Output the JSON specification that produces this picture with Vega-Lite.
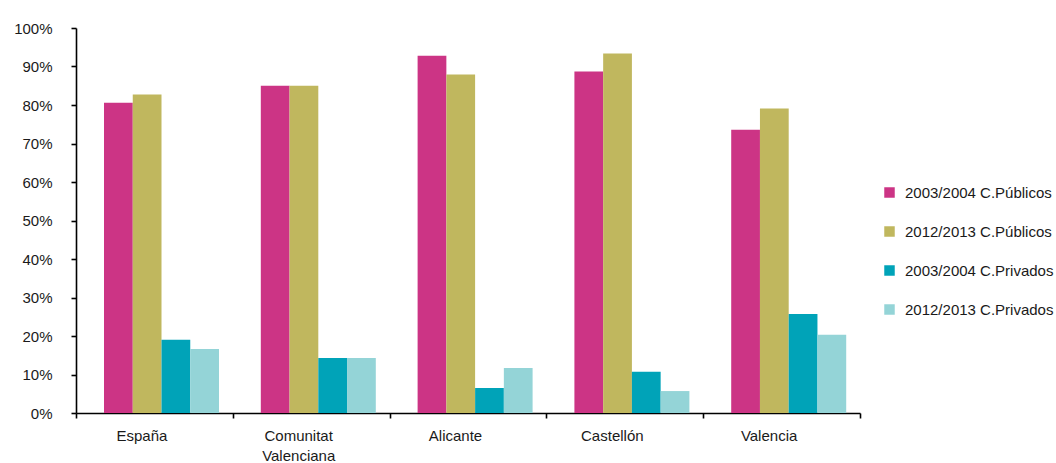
{
  "$schema": "https://vega.github.io/schema/vega-lite/v6.json",
  "width": 784,
  "height": 385,
  "autosize": "none",
  "padding": {"left": 76, "top": 28, "right": 196, "bottom": 50},
  "background": "white",
  "config": {
    "font": "Liberation Sans, Arial, sans-serif",
    "view": {"stroke": null},
    "axis": {
      "domainColor": "#000000",
      "domainWidth": 1.6,
      "tickColor": "#000000",
      "tickWidth": 1.6,
      "tickSize": 5,
      "labelColor": "#1a1a1a",
      "labelFontSize": 15,
      "labelFont": "Liberation Sans, Arial, sans-serif",
      "grid": false,
      "title": null
    },
    "legend": {
      "labelFont": "Liberation Sans, Arial, sans-serif"
    }
  },
  "data": {
    "values": [
      {"region": "España", "series": "2003/2004 C.Públicos", "value": 80.6},
      {"region": "España", "series": "2012/2013 C.Públicos", "value": 82.7},
      {"region": "España", "series": "2003/2004 C.Privados", "value": 19.0},
      {"region": "España", "series": "2012/2013 C.Privados", "value": 16.6},
      {"region": "Comunitat Valenciana", "series": "2003/2004 C.Públicos", "value": 85.0},
      {"region": "Comunitat Valenciana", "series": "2012/2013 C.Públicos", "value": 85.0},
      {"region": "Comunitat Valenciana", "series": "2003/2004 C.Privados", "value": 14.3},
      {"region": "Comunitat Valenciana", "series": "2012/2013 C.Privados", "value": 14.3},
      {"region": "Alicante", "series": "2003/2004 C.Públicos", "value": 92.8},
      {"region": "Alicante", "series": "2012/2013 C.Públicos", "value": 87.9},
      {"region": "Alicante", "series": "2003/2004 C.Privados", "value": 6.5},
      {"region": "Alicante", "series": "2012/2013 C.Privados", "value": 11.7},
      {"region": "Castellón", "series": "2003/2004 C.Públicos", "value": 88.7},
      {"region": "Castellón", "series": "2012/2013 C.Públicos", "value": 93.4},
      {"region": "Castellón", "series": "2003/2004 C.Privados", "value": 10.7},
      {"region": "Castellón", "series": "2012/2013 C.Privados", "value": 5.7},
      {"region": "Valencia", "series": "2003/2004 C.Públicos", "value": 73.6},
      {"region": "Valencia", "series": "2012/2013 C.Públicos", "value": 79.1},
      {"region": "Valencia", "series": "2003/2004 C.Privados", "value": 25.7},
      {"region": "Valencia", "series": "2012/2013 C.Privados", "value": 20.3}
    ]
  },
  "mark": {"type": "bar"},
  "encoding": {
    "x": {
      "field": "region",
      "type": "nominal",
      "sort": null,
      "scale": {"paddingInner": 0, "paddingOuter": 0},
      "axis": {
        "labelAngle": 0,
        "tickBand": "extent",
        "labelOffset": -13,
        "labelPadding": 10,
        "labelLineHeight": 20,
        "labelBaseline": "top",
        "labelExpr": "datum.label == 'Comunitat Valenciana' ? ['Comunitat', 'Valenciana'] : datum.label"
      }
    },
    "xOffset": {
      "field": "series",
      "type": "nominal",
      "sort": ["2003/2004 C.Públicos", "2012/2013 C.Públicos", "2003/2004 C.Privados", "2012/2013 C.Privados"],
      "scale": {"paddingInner": 0, "paddingOuter": 0.727, "align": 0.67}
    },
    "y": {
      "field": "value",
      "type": "quantitative",
      "scale": {"domain": [0, 100], "nice": false},
      "axis": {
        "values": [0, 10, 20, 30, 40, 50, 60, 70, 80, 90, 100],
        "labelExpr": "datum.value + '%'",
        "labelPadding": 19
      }
    },
    "color": {
      "field": "series",
      "type": "nominal",
      "sort": ["2003/2004 C.Públicos", "2012/2013 C.Públicos", "2003/2004 C.Privados", "2012/2013 C.Privados"],
      "scale": {
        "domain": ["2003/2004 C.Públicos", "2012/2013 C.Públicos", "2003/2004 C.Privados", "2012/2013 C.Privados"],
        "range": ["#CC3485", "#C0B75E", "#00A3B8", "#94D4D7"]
      },
      "legend": {
        "orient": "none",
        "legendX": 806,
        "legendY": 157,
        "title": null,
        "symbolType": "square",
        "symbolSize": 110,
        "symbolStrokeWidth": 0,
        "labelFontSize": 15,
        "labelColor": "#1a1a1a",
        "labelOffset": 8,
        "rowPadding": 23,
        "labelLimit": 200
      }
    }
  }
}
